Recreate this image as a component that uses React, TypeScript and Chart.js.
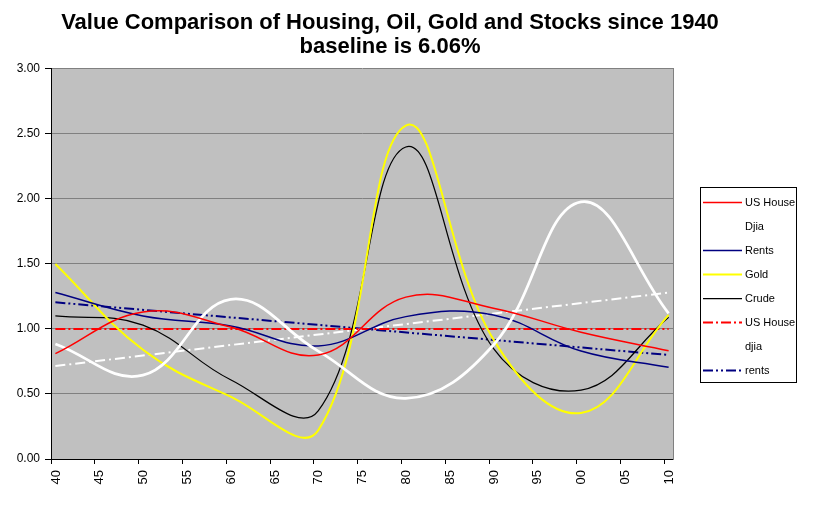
import React, { useEffect, useRef } from 'react';
import { Chart, registerables } from 'chart.js';

Chart.register(...registerables);

const FONT = '"Liberation Sans", Arial, Helvetica, sans-serif';

// Data points (x = year)
const years = [1940.5, 1950.5, 1960.5, 1970.5, 1980.5, 1990.5, 2000.5, 2010.5];
const usHouse = [0.81, 1.13, 1.015, 0.8, 1.245, 1.16, 0.975, 0.833];
const djia = [0.885, 0.645, 1.228, 0.83, 0.467, 0.877, 1.978, 1.12];
const rents = [1.28, 1.1, 1.023, 0.87, 1.095, 1.108, 0.83, 0.705];
const gold = [1.5, 0.84, 0.48, 0.22, 2.565, 0.92, 0.354, 1.108];
const crude = [1.1, 1.03, 0.61, 0.37, 2.4, 0.85, 0.53, 1.09];

// Linear trend lines (start / end)
const trendYears = [1940.5, 2010.5];
const usHouseTrend = [1.0, 1.0];
const djiaTrend = [0.715, 1.28];
const rentsTrend = [1.205, 0.8];

const titleLines = ['Value Comparison of Housing, Oil, Gold and Stocks since 1940', 'baseline is 6.06%'];
const xMin = 1940;
const xMax = 2011;
const yMin = 0;
const yMax = 3;

const pts = (xs: number[], ys: number[]) => xs.map((x, i) => ({ x, y: ys[i] }));

const bgPlugin = {
  id: 'plotBg',
  beforeDraw(chart: any) {
    const { ctx, chartArea: a } = chart;
    ctx.save();
    ctx.fillStyle = '#ffffff';
    ctx.fillRect(0, 0, chart.width, chart.height);
    ctx.fillStyle = '#C0C0C0';
    ctx.fillRect(a.left, a.top, a.right - a.left, a.bottom - a.top);
    ctx.restore();
  },
};

const boxLegendPlugin = {
  id: 'boxLegend',
  afterDraw(chart: any) {
    const { ctx, chartArea: a } = chart;
    const x0 = a.right + 27;
    const y0 = 187;
    const w = 96;
    const h = 195;
    ctx.save();
    ctx.fillStyle = '#ffffff';
    ctx.fillRect(x0, y0, w, h);
    ctx.strokeStyle = '#000000';
    ctx.lineWidth = 1;
    ctx.setLineDash([]);
    ctx.strokeRect(x0 + 0.5, y0 + 0.5, w, h);
    chart.data.datasets.forEach((ds: any, i: number) => {
      const y = y0 + 15.5 + i * 24;
      ctx.beginPath();
      ctx.setLineDash(ds.borderDash || []);
      ctx.strokeStyle = ds.borderColor;
      ctx.lineWidth = Math.min(ds.borderWidth, 2);
      ctx.moveTo(x0 + 3, y);
      ctx.lineTo(x0 + 42, y);
      ctx.stroke();
      ctx.setLineDash([]);
      ctx.fillStyle = '#000000';
      ctx.font = `11px ${FONT}`;
      ctx.textBaseline = 'middle';
      ctx.textAlign = 'left';
      ctx.fillText(ds.label, x0 + 45, y + 0.5);
    });
    ctx.restore();
  },
};

export default function App() {
  const ref = useRef<HTMLCanvasElement | null>(null);

  useEffect(() => {
    if (!ref.current) return;
    const common = { pointRadius: 0, pointHoverRadius: 0, fill: false, tension: 0.4 };
    const chart = new Chart(ref.current, {
      type: 'line',
      data: {
        datasets: [
          { label: 'US House', data: pts(years, usHouse), borderColor: '#FF0000', borderWidth: 1.5, ...common },
          { label: 'Djia', data: pts(years, djia), borderColor: '#FFFFFF', borderWidth: 2.75, ...common },
          { label: 'Rents', data: pts(years, rents), borderColor: '#000080', borderWidth: 1.5, ...common },
          { label: 'Gold', data: pts(years, gold), borderColor: '#FFFF00', borderWidth: 2, ...common },
          { label: 'Crude', data: pts(years, crude), borderColor: '#000000', borderWidth: 1.25, ...common },
          { label: 'US House', data: pts(trendYears, usHouseTrend), borderColor: '#FF0000', borderWidth: 2, borderDash: [10, 3, 2, 3], ...common, tension: 0 },
          { label: 'djia', data: pts(trendYears, djiaTrend), borderColor: '#FFFFFF', borderWidth: 2, borderDash: [10, 4, 2, 4], ...common, tension: 0 },
          { label: 'rents', data: pts(trendYears, rentsTrend), borderColor: '#000080', borderWidth: 2, borderDash: [10, 3, 2, 3, 2, 3], ...common, tension: 0 },
        ],
      },
      options: {
        responsive: false,
        maintainAspectRatio: false,
        devicePixelRatio: 1,
        animation: false,
        layout: { padding: { left: 0, right: 42, top: 0, bottom: 0 } },
        plugins: {
          legend: { display: false },
          tooltip: { enabled: false },
          title: {
            display: true,
            text: titleLines,
            color: '#000000',
            font: { family: FONT, size: 22, weight: 'bold', lineHeight: 1.09 },
            padding: { top: 10.5, bottom: 10.5 },
          },
        },
        scales: {
          x: {
            type: 'linear',
            min: xMin,
            max: xMax,
            afterFit: (s: any) => { s.height = 56; },
            border: { display: true, color: '#000000', width: 1 },
            grid: { display: true, drawOnChartArea: false, drawTicks: true, tickLength: 5, tickColor: '#000000' },
            ticks: {
              stepSize: 5,
              includeBounds: false,
              autoSkip: false,
              minRotation: 90,
              maxRotation: 90,
              padding: 6,
              labelOffset: 5,
              color: '#000000',
              font: { family: FONT, size: 13 },
              callback: (v: any) => String(Math.round(Number(v)) % 100).padStart(2, '0'),
            },
          },
          y: {
            type: 'linear',
            min: yMin,
            max: yMax,
            afterFit: (s: any) => { s.width = 51; },
            border: { display: true, color: '#000000', width: 1 },
            grid: { color: '#808080', tickColor: '#000000', tickLength: 6, lineWidth: 1 },
            ticks: {
              stepSize: 0.5,
              padding: 5,
              color: '#000000',
              font: { family: FONT, size: 12 },
              callback: (v: any) => Number(v).toFixed(2),
            },
          },
          yR: {
            type: 'linear',
            position: 'right',
            display: true,
            min: 0,
            max: 1,
            afterFit: (s: any) => { s.width = 107; },
            border: { display: true, color: '#808080', width: 1 },
            grid: { display: false, drawTicks: false },
            ticks: { display: false },
          },
        },
      },
      plugins: [bgPlugin, boxLegendPlugin],
    } as any);
    return () => chart.destroy();
  }, []);

  return (
    <div style={{ position: 'fixed', left: 0, top: 0, width: 822, height: 515, background: '#fff' }}>
      <canvas ref={ref} width={822} height={515} style={{ display: 'block', width: 822, height: 515 }} />
    </div>
  );
}
